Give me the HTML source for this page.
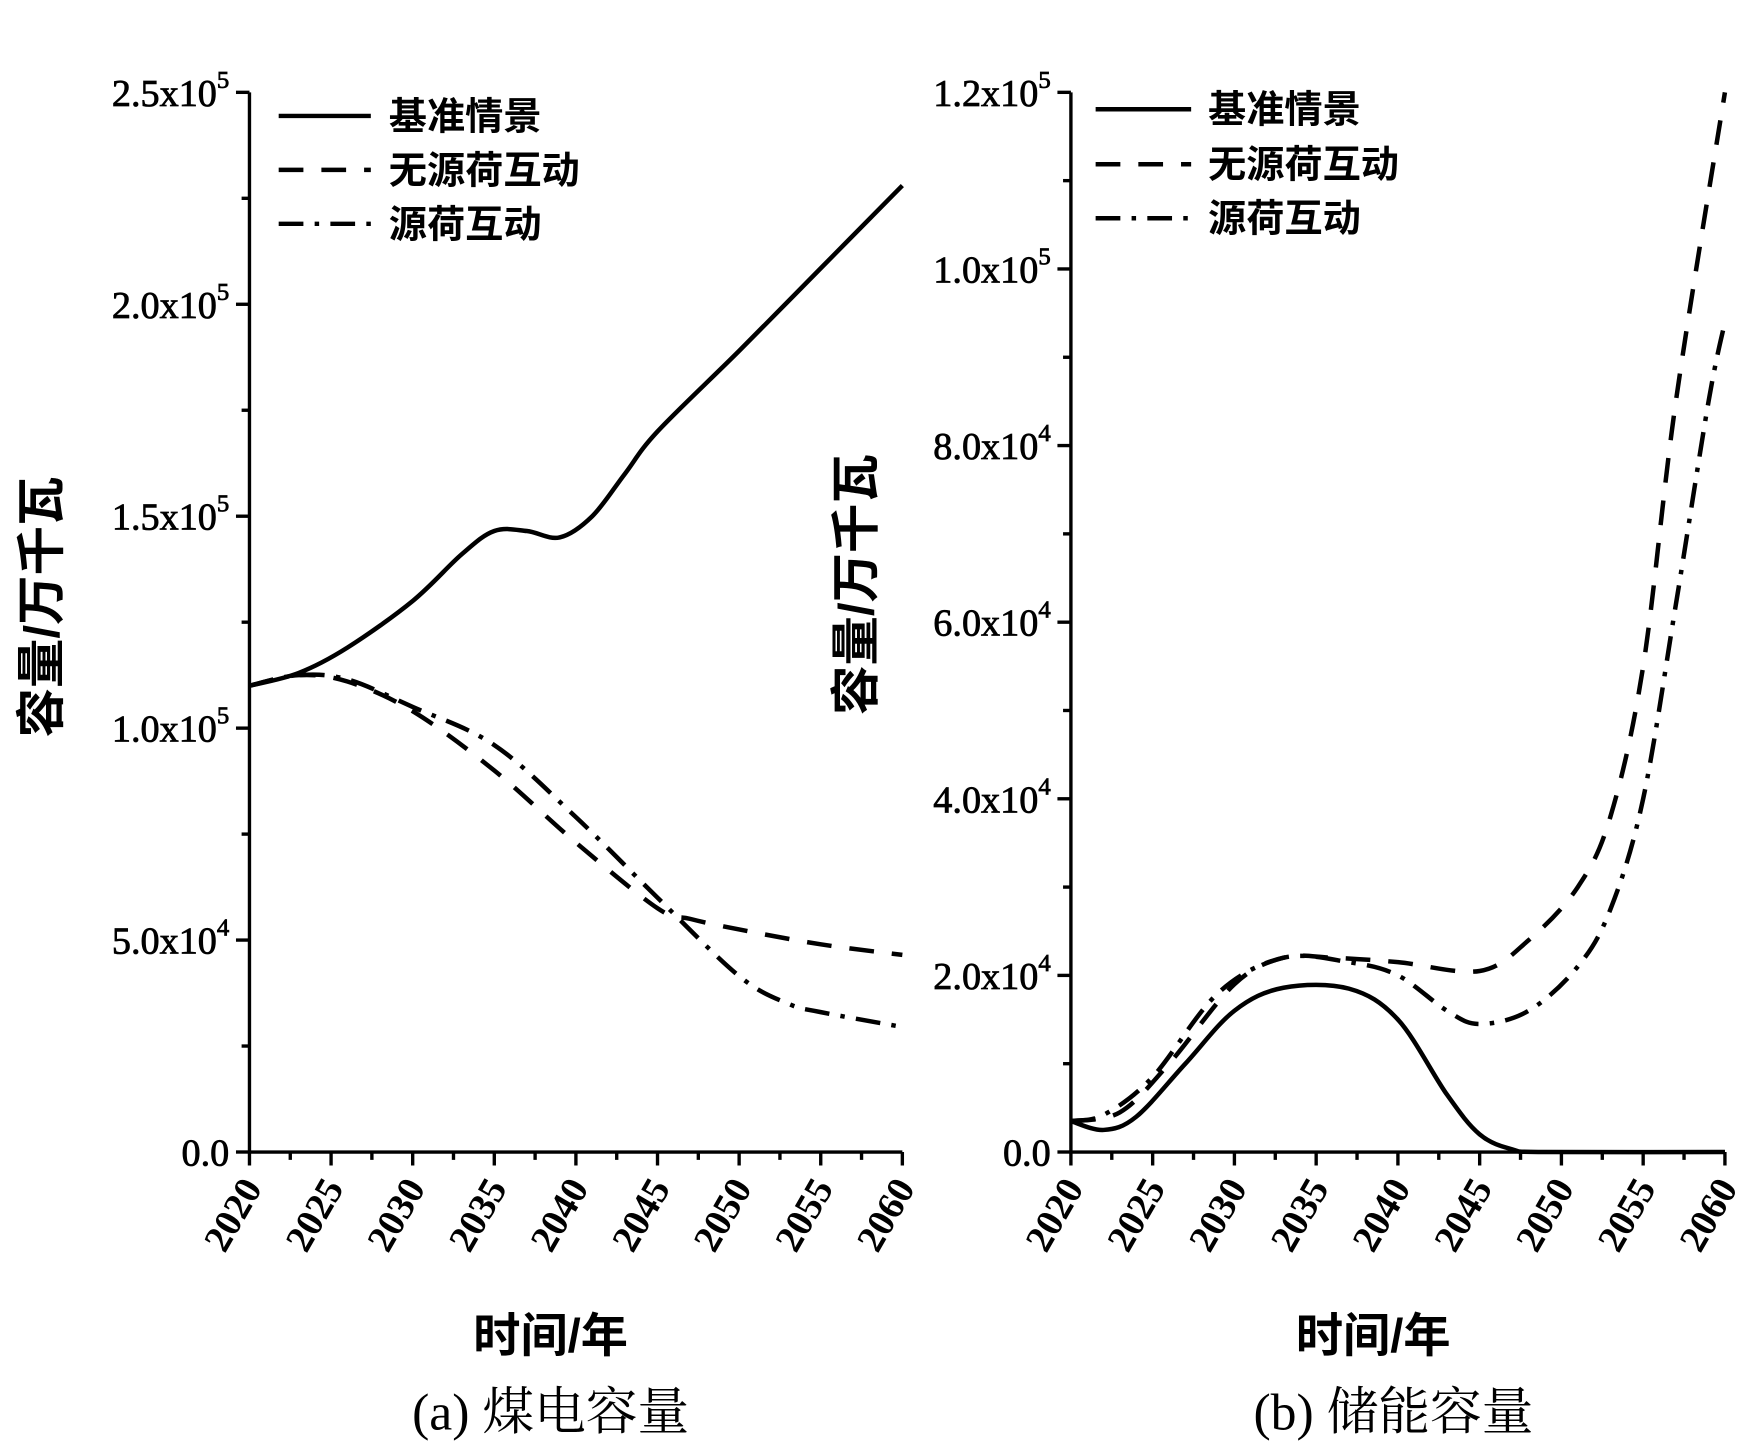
<!DOCTYPE html>
<html><head><meta charset="utf-8"><style>
html,body{margin:0;padding:0;background:#fff}
svg{display:block}
text{font-family:"Liberation Serif","Noto Serif CJK SC",serif;fill:#000}
.tk{font-size:34px;stroke:#000;stroke-width:0.7}
.cj{font-family:"Liberation Sans","Noto Sans CJK SC",sans-serif;font-weight:bold}
</style></head><body>
<svg id="s" width="1762" height="1441" viewBox="0 0 1568 1282" xmlns="http://www.w3.org/2000/svg">
<g id="g" stroke="#000" fill="none" stroke-width="3"></g>
<g id="t"></g>
<g font-size="34" class="cj">
<text x="346" y="115" class="cj">基准情景</text>
<text x="346" y="163" class="cj">无源荷互动</text>
<text x="346" y="211" class="cj">源荷互动</text>
<text x="1075" y="109" class="cj">基准情景</text>
<text x="1075" y="158" class="cj">无源荷互动</text>
<text x="1075" y="206" class="cj">源荷互动</text>
<text x="0" y="0" font-size="44" text-anchor="middle" transform="translate(52,540) rotate(-90)" class="cj">容量/万千瓦</text>
<text x="0" y="0" font-size="44" text-anchor="middle" transform="translate(777,520) rotate(-90)" class="cj">容量/万千瓦</text>
<text x="490" y="1203" font-size="42" text-anchor="middle" class="cj">时间/年</text>
<text x="1222" y="1203" font-size="42" text-anchor="middle" class="cj">时间/年</text>
</g>
<text x="490" y="1272" font-size="46" text-anchor="middle">(a) 煤电容量</text>
<text x="1240" y="1272" font-size="46" text-anchor="middle">(b) 储能容量</text>
</svg>
<script>
var g=document.getElementById('g'),t=document.getElementById('t'),NS="http://www.w3.org/2000/svg";
function el(p,tag,a,txt){var e=document.createElementNS(NS,tag);for(var k in a)e.setAttribute(k,a[k]);if(txt!==undefined)e.innerHTML=txt;p.appendChild(e);return e;}
function cr(pts){var d="M"+pts[0][0]+","+pts[0][1];for(var i=0;i<pts.length-1;i++){var p0=pts[i-1]||pts[i],p1=pts[i],p2=pts[i+1],p3=pts[i+2]||p2;
d+=" C"+(p1[0]+(p2[0]-p0[0])/6)+","+(p1[1]+(p2[1]-p0[1])/6)+" "+(p2[0]-(p3[0]-p1[0])/6)+","+(p2[1]-(p3[1]-p1[1])/6)+" "+p2[0]+","+p2[1];}return d;}
function panel(x0,x1,y0,y1,ymax,step,labels,exps,series){
 el(g,'path',{d:"M"+x0+","+y1+" V"+y0+" H"+x1});
 var yr=function(v){return y0-(v/ymax)*(y0-y1)};
 var n=ymax/step;
 for(var i=0;i<=n;i++){var y=yr(i*step);el(g,'line',{x1:x0-12,y1:y,x2:x0,y2:y});
  if(i<n){el(g,'line',{x1:x0-7,y1:yr((i+.5)*step),x2:x0,y2:yr((i+.5)*step)});}
  var tx=el(t,'text',{x:x0-18,y:y+12,'text-anchor':'end','class':'tk'});
  tx.innerHTML=labels[i]+(exps[i]?'<tspan dy="-16" font-size="22">'+exps[i]+'</tspan>':'');}
 var xs=function(yy){return x0+(yy-2020)/40*(x1-x0)};
 for(var k=0;k<=8;k++){var x=xs(2020+k*5);el(g,'line',{x1:x,y1:y0,x2:x,y2:y0+12});
  if(k<8)el(g,'line',{x1:xs(2022.5+k*5),y1:y0,x2:xs(2022.5+k*5),y2:y0+7});
  el(t,'text',{x:0,y:0,'font-size':34,'font-weight':'bold','text-anchor':'end',transform:'translate('+(x+12)+','+(y0+32)+') rotate(-60)'},String(2020+k*5));}
 series.forEach(function(s){var pts=s.p.map(function(q){return [xs(q[0]),yr(q[1])]});
  el(g,'path',{d:cr(pts),'stroke-width':4,'stroke-dasharray':s.d||''});});
}
var dash="22 16",dd="22 10 4 10";
panel(222,803,1025,82,250000,50000,["0.0","5.0x10","1.0x10","1.5x10","2.0x10","2.5x10"],["","4","5","5","5","5"],[
{p:[[2020,110000],[2023,113000],[2026,119000],[2030,130000],[2033,141000],[2035,146500],[2037,146500],[2039,145000],[2041,150000],[2043,160000],[2045,170000],[2050,189000],[2055,208500],[2060,228000]]},
{d:dash,p:[[2020,110000],[2023,112500],[2026,111000],[2030,104000],[2035,90000],[2040,73000],[2045,57500],[2047,55000],[2050,52500],[2055,49000],[2060,46500]]},
{d:dd,p:[[2020,110000],[2023,112500],[2026,111500],[2030,105000],[2035,96000],[2040,79000],[2045,60000],[2050,41500],[2053,35000],[2055,33000],[2060,29500]]}]);
panel(953,1535,1025,82,120000,20000,["0.0","2.0x10","4.0x10","6.0x10","8.0x10","1.0x10","1.2x10"],["","4","4","4","4","5","5"],[
{p:[[2020,3500],[2022,2500],[2024,4000],[2027,10000],[2030,16000],[2033,18600],[2037,18500],[2040,15000],[2043,6500],[2045,2000],[2047,300],[2049,0],[2060,0]]},
{d:dash,p:[[2020,3500],[2023,4500],[2026,10000],[2030,19000],[2033,22000],[2036,22000],[2040,21500],[2045,20500],[2048,24000],[2051,30000],[2053,38000],[2055,55000],[2057,85000],[2060,120000]]},
{d:dd,p:[[2020,3500],[2022,4200],[2025,8500],[2029,18000],[2033,22000],[2037,21500],[2040,20000],[2043,16000],[2045,14500],[2048,16000],[2051,21000],[2053,27500],[2055,40000],[2057,62000],[2059,85000],[2060,94000]]}]);
el(g,'line',{x1:248,y1:103,x2:330,y2:103,'stroke-width':4});
el(g,'line',{x1:248,y1:151,x2:330,y2:151,'stroke-width':4,'stroke-dasharray':dash});
el(g,'line',{x1:248,y1:199,x2:330,y2:199,'stroke-width':4,'stroke-dasharray':dd});
el(g,'line',{x1:975,y1:97,x2:1060,y2:97,'stroke-width':4});
el(g,'line',{x1:975,y1:146,x2:1060,y2:146,'stroke-width':4,'stroke-dasharray':dash});
el(g,'line',{x1:975,y1:194,x2:1060,y2:194,'stroke-width':4,'stroke-dasharray':dd});
</script>
</body></html>
